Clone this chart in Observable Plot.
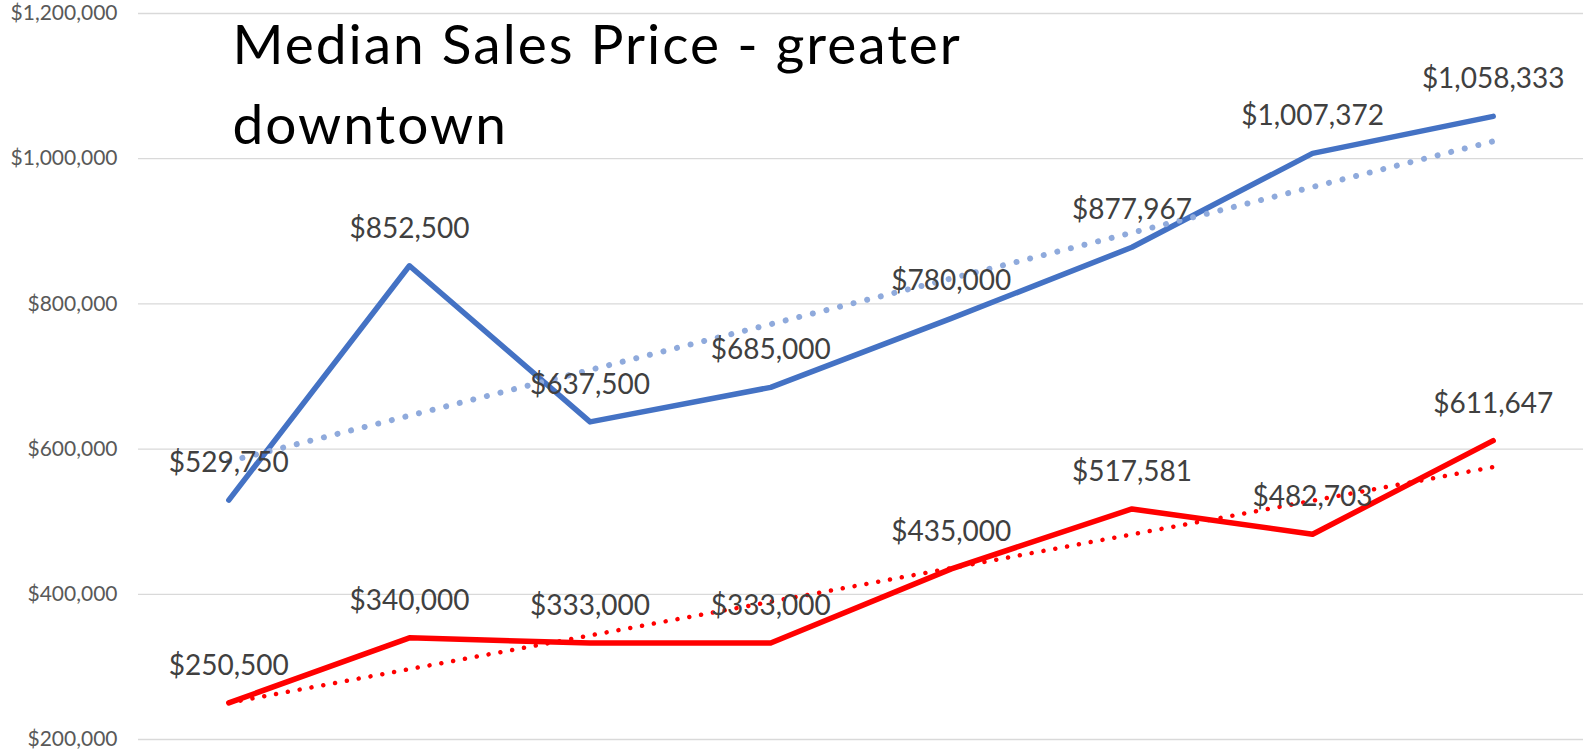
<!DOCTYPE html>
<html>
<head>
<meta charset="utf-8">
<script src="https://cdn.jsdelivr.net/npm/d3@7"></script>
<script src="https://cdn.jsdelivr.net/npm/@observablehq/plot@0.6"></script>
<style>
  html, body { margin: 0; padding: 0; background: #fff; }
  #chart svg { display: block; }
  .chart-title text { letter-spacing: 2px; }
</style>
</head>
<body>
<div id="chart"></div>
<script>
// Periods (no category labels shown on the chart)
const periods = [1, 2, 3, 4, 5, 6, 7, 8];
const upperSeries = [529750, 852500, 637500, 685000, 780000, 877967, 1007372, 1058333];
const lowerSeries = [250500, 340000, 333000, 333000, 435000, 517581, 482703, 611647];
const yTicks = [200000, 400000, 600000, 800000, 1000000, 1200000];
const titleText = "Median Sales Price - greater\ndowntown";

const upper = periods.map((p, i) => ({period: p, value: upperSeries[i]}));
const lower = periods.map((p, i) => ({period: p, value: lowerSeries[i]}));
const money = d3.format("$,");

const chart = Plot.plot({
  width: 1583,
  height: 752,
  marginLeft: 138,
  marginRight: 0,
  marginTop: 13,
  marginBottom: 13,
  style: {fontFamily: "Lato, 'Open Sans', sans-serif", background: "#fff"},
  x: {type: "linear", domain: [0.5, 8.5], axis: null},
  y: {domain: [200000, 1200000], axis: null},
  marks: [
    Plot.gridY(yTicks, {stroke: "#d9d9d9", strokeOpacity: 1, strokeWidth: 1.3}),
    Plot.axisY(yTicks, {tickFormat: money, tickSize: 0, tickPadding: 21, fontSize: 21, color: "#595959", textAnchor: "end", label: null}),
    Plot.line(upper, {x: "period", y: "value", stroke: "#4472c4", strokeWidth: 5.5, strokeLinejoin: "round", strokeLinecap: "round"}),
    Plot.line(lower, {x: "period", y: "value", stroke: "#ff0000", strokeWidth: 5.5, strokeLinejoin: "round", strokeLinecap: "round"}),
    Plot.linearRegressionY(upper, {x: "period", y: "value", ci: 0, stroke: "#8faadc", strokeWidth: 6, strokeDasharray: "0.01 14", strokeLinecap: "round"}),
    Plot.linearRegressionY(lower, {x: "period", y: "value", ci: 0, stroke: "#ff0000", strokeWidth: 4.5, strokeDasharray: "0.01 12", strokeLinecap: "round"}),
    Plot.text(upper, {x: "period", y: "value", text: d => money(d.value), dy: -37, fontSize: 28, fill: "#404040", lineAnchor: "middle"}),
    Plot.text(lower, {x: "period", y: "value", text: d => money(d.value), dy: -37, fontSize: 28, fill: "#404040", lineAnchor: "middle"}),
    Plot.text([titleText], {frameAnchor: "top-left", text: d => d, dx: 94, dy: -6, fontSize: 55, lineHeight: 1.455, fill: "#000", textAnchor: "start", lineAnchor: "top", className: "chart-title"})
  ]
});
document.getElementById("chart").appendChild(chart);
</script>
</body>
</html>
